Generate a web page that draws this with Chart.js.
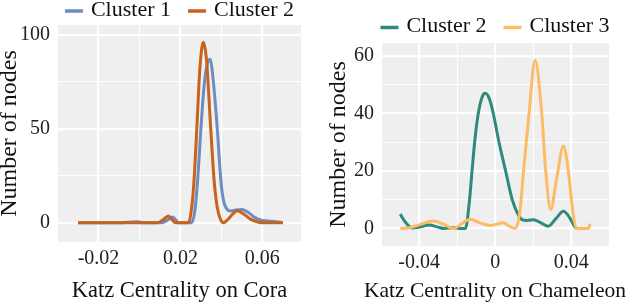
<!DOCTYPE html>
<html>
<head>
<meta charset="utf-8">
<script src="https://cdn.jsdelivr.net/npm/chart.js@4"></script>
<style>
  html, body { margin: 0; padding: 0; background: #fff; }
  #wrap { position: relative; width: 628px; height: 304px; }
  .panel { position: absolute; top: 0; width: 314px; height: 304px; }
</style>
</head>
<body>
<div id="wrap">
  <div class="panel" style="left:0"><canvas id="cora" width="314" height="304"></canvas></div>
  <div class="panel" style="left:314px"><canvas id="chameleon" width="314" height="304"></canvas></div>
</div>
<script>
// Cora: density of Katz centrality per cluster
const coraC1X = [-0.03, -0.008, -0.004, -0.001, 0.002, 0.011, 0.0135, 0.0163, 0.018, 0.019, 0.0255, 0.027, 0.0285, 0.03, 0.0315, 0.033, 0.0345, 0.036, 0.038, 0.0397, 0.041, 0.0425, 0.0445, 0.047, 0.05, 0.053, 0.056, 0.059, 0.063, 0.067, 0.07];
const coraC1Y = [0, 0, 0.4, 0.5, 0, 0, 1.2, 3, 1, 0, 0, 6, 24, 50, 72, 84, 87, 76, 50, 23, 12, 7.5, 6.2, 6.8, 7, 5.5, 3, 1.5, 0.9, 0.5, 0];
const coraC2X = [-0.03, 0.009, 0.0115, 0.0141, 0.016, 0.0175, 0.0239, 0.025, 0.0265, 0.028, 0.0295, 0.0312, 0.0328, 0.0348, 0.0365, 0.038, 0.0395, 0.041, 0.043, 0.0455, 0.0477, 0.051, 0.054, 0.057, 0.06, 0.07];
const coraC2Y = [0, 0, 1.5, 3.5, 1.5, 0, 0, 4, 20, 50, 82, 96, 86, 50, 22, 8, 2, 0, 1.5, 4.5, 6.3, 4.5, 2, 0.6, 0, 0];

// Chameleon
const chamC2X = [-0.05, -0.047, -0.0437, -0.04, -0.035, -0.03, -0.027, -0.022, -0.019, -0.0157, -0.0135, -0.0122, -0.0105, -0.0089, -0.007, -0.0052, -0.003, -0.001, 0.002, 0.0055, 0.009, 0.012, 0.0145, 0.017, 0.0201, 0.024, 0.028, 0.032, 0.0359, 0.039, 0.0415, 0.043, 0.049];
const chamC2Y = [5, 2, 0.2, 0.5, 1.2, 0.5, 0, 0.3, 0, 0, 10, 20, 32, 40, 45.5, 47, 45, 40, 30, 20, 10, 5, 3, 2.8, 3.1, 2, 0.8, 3.5, 6, 4, 1, 0, 0];
const chamC3X = [-0.05, -0.045, -0.04, -0.0324, -0.027, -0.0219, -0.018, -0.0131, -0.008, -0.0026, 0.0044, 0.0075, 0.0105, 0.0131, 0.0149, 0.0178, 0.021, 0.0245, 0.0266, 0.0292, 0.0325, 0.0359, 0.0385, 0.041, 0.0429, 0.049, 0.05];
const chamC3Y = [0, 0.3, 1.3, 2.6, 1.5, 0, 1.5, 3.2, 2, 1.1, 2, 0.8, 0, 6.4, 20, 40, 58.5, 40, 20, 6.6, 18, 28.7, 20, 5, 0, 0, 1.7];

// ticks: every grid line, and which ones get a label
const coraXTicks = [-0.04, -0.02, 0, 0.02, 0.04, 0.06];
const coraXMajor = [-0.02, 0.02, 0.06];
const coraYTicks = [0, 25, 50, 75, 100];
const coraYMajor = [0, 50, 100];
const chamXTicks = [-0.06, -0.04, -0.02, 0, 0.02, 0.04, 0.06];
const chamXMajor = [-0.04, 0, 0.04];
const chamYTicks = [0, 10, 20, 30, 40, 50, 60];
const chamYMajor = [0, 20, 40, 60];

const SERIF = "'Liberation Serif', 'Times New Roman', serif";

const pts = (xs, ys) => xs.map((x, i) => ({ x, y: ys[i] }));
const isIn = (v, list) => list.some(m => Math.abs(m - v) < 1e-9);

const panelBg = {
  id: "panelBg",
  beforeDraw(chart) {
    const { ctx, chartArea: a } = chart;
    ctx.save();
    ctx.fillStyle = "#efefef";
    ctx.fillRect(a.left, a.top, a.right - a.left, a.bottom - a.top);
    ctx.restore();
  }
};

// ggplot-like legend: short thick line + label, centred over the panel
const lineLegend = {
  id: "lineLegend",
  afterDraw(chart, args, opts) {
    const { ctx, chartArea: a } = chart;
    const items = chart.data.datasets.slice().sort((p, q) => p.legendIndex - q.legendIndex);
    ctx.save();
    ctx.font = `22px ${SERIF}`;
    ctx.textBaseline = "middle";
    const mark = 18, gap = 8, sep = 17;
    const widths = items.map(d => mark + gap + ctx.measureText(d.label).width);
    const total = widths.reduce((s, w) => s + w, 0) + sep * (items.length - 1);
    let x = (a.left + a.right) / 2 - total / 2;
    items.forEach((d, i) => {
      ctx.strokeStyle = d.borderColor;
      ctx.lineWidth = 3.5;
      ctx.beginPath();
      ctx.moveTo(x, opts.y + 1);
      ctx.lineTo(x + mark, opts.y + 1);
      ctx.stroke();
      ctx.fillStyle = "#111";
      ctx.fillText(d.label, x + mark + gap, opts.y);
      x += widths[i] + sep;
    });
    ctx.restore();
  }
};

// x title drawn by hand so a long one may run past the panel edge
const xTitle = {
  id: "xTitle",
  afterDraw(chart, args, opts) {
    const { ctx, chartArea: a } = chart;
    ctx.save();
    ctx.font = `${opts.size}px ${SERIF}`;
    ctx.fillStyle = "#111";
    ctx.textAlign = "center";
    ctx.textBaseline = "alphabetic";
    ctx.fillText(opts.text, (a.left + a.right) / 2, opts.baseline);
    ctx.restore();
  }
};

function makeChart(id, cfg) {
  return new Chart(document.getElementById(id), {
    type: "line",
    data: { datasets: cfg.datasets },
    options: {
      responsive: false,
      animation: false,
      devicePixelRatio: 1,
      layout: { padding: cfg.padding },
      elements: {
        point: { radius: 0 },
        line: { borderWidth: 3, cubicInterpolationMode: "monotone" }
      },
      plugins: {
        legend: { display: false },
        tooltip: { enabled: false },
        lineLegend: { y: cfg.legendY },
        xTitle: { text: cfg.xTitle, size: cfg.xTitleSize, baseline: 297 }
      },
      scales: {
        x: {
          type: "linear",
          min: cfg.xMin, max: cfg.xMax,
          afterBuildTicks: s => { s.ticks = cfg.xTicks.map(v => ({ value: v })); },
          afterFit: s => { s.height = cfg.xHeight; },
          border: { display: false },
          grid: {
            color: "#ffffff",
            drawTicks: false,
            lineWidth: c => isIn(c.tick.value, cfg.xMajor) ? 2.2 : 1
          },
          ticks: {
            padding: 5,
            color: "#222",
            maxRotation: 0,
            autoSkip: false,
            font: { family: SERIF, size: 20 },
            callback: v => isIn(v, cfg.xMajor) ? String(+v.toFixed(2)) : ""
          }
        },
        y: {
          min: cfg.yMin, max: cfg.yMax,
          afterBuildTicks: s => { s.ticks = cfg.yTicks.map(v => ({ value: v })); },
          afterFit: s => { s.width = cfg.yWidth; },
          border: { display: false },
          grid: {
            color: "#ffffff",
            drawTicks: false,
            lineWidth: c => isIn(c.tick.value, cfg.yMajor) ? 2.2 : 1
          },
          ticks: {
            padding: cfg.yTickPad,
            color: "#222",
            autoSkip: false,
            font: { family: SERIF, size: 20 },
            callback: v => isIn(v, cfg.yMajor) ? String(v) : ""
          },
          title: {
            display: true,
            text: "Number of nodes",
            color: "#111",
            font: { family: SERIF, size: 24, lineHeight: 1 },
            padding: { top: cfg.yTitlePad, bottom: 0 }
          }
        }
      }
    },
    plugins: [panelBg, lineLegend, xTitle]
  });
}

makeChart("cora", {
  datasets: [
    { label: "Cluster 1", legendIndex: 0, order: 1, data: pts(coraC1X, coraC1Y), borderColor: "#6d8cc2" },
    { label: "Cluster 2", legendIndex: 1, order: 0, data: pts(coraC2X, coraC2Y), borderColor: "#c9621d" }
  ],
  padding: { top: 25, right: 13, left: 0, bottom: 0 },
  legendY: 10,
  xMin: -0.0398, xMax: 0.0789, yMin: -10.3, yMax: 105.2,
  xTicks: coraXTicks, xMajor: coraXMajor, yTicks: coraYTicks, yMajor: coraYMajor,
  xHeight: 62, yWidth: 58, yTickPad: 8, yTitlePad: -2,
  xTitle: "Katz Centrality on Cora", xTitleSize: 22.5
});

makeChart("chameleon", {
  datasets: [
    { label: "Cluster 2", legendIndex: 0, order: 1, data: pts(chamC2X, chamC2Y), borderColor: "#2d8a7c" },
    { label: "Cluster 3", legendIndex: 1, order: 0, data: pts(chamC3X, chamC3Y), borderColor: "#fdbb66" }
  ],
  padding: { top: 43, right: 19, left: 0, bottom: 0 },
  legendY: 26.5,
  xMin: -0.0601, xMax: 0.0599, yMin: -6.06, yMax: 64.5,
  xTicks: chamXTicks, xMajor: chamXMajor, yTicks: chamYTicks, yMajor: chamYMajor,
  xHeight: 58, yWidth: 67, yTickPad: 7, yTitlePad: 12.5,
  xTitle: "Katz Centrality on Chameleon", xTitleSize: 21.5
});
</script>
</body>
</html>
